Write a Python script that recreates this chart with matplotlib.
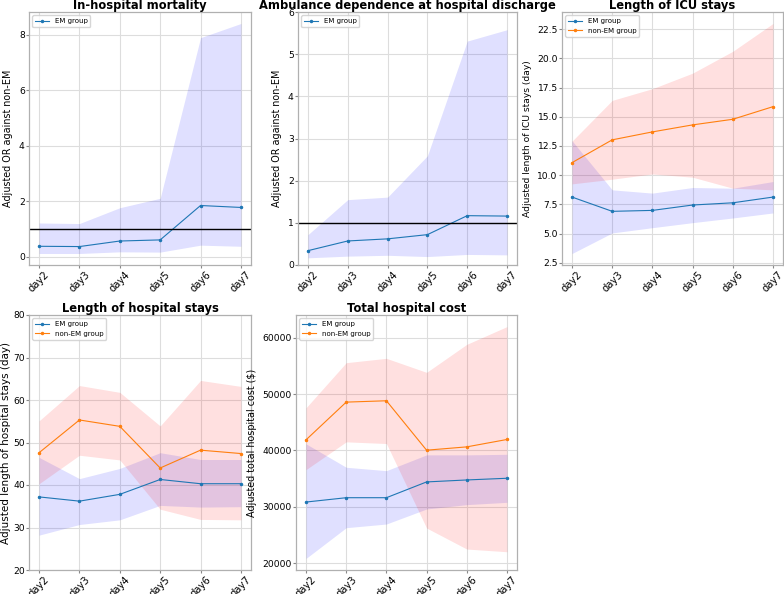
import matplotlib
matplotlib.use("Agg")
import matplotlib.pyplot as plt

days = ["day2", "day3", "day4", "day5", "day6", "day7"]

# In-hospital mortality (EM only, adjusted OR)
mort_em = [0.37, 0.36, 0.56, 0.60, 1.84, 1.77]
mort_em_lo = [0.11, 0.11, 0.17, 0.16, 0.41, 0.37]
mort_em_hi = [1.21, 1.19, 1.76, 2.10, 7.89, 8.40]

# Ambulance dependence at discharge (EM only, adjusted OR)
amb_em = [0.34, 0.57, 0.62, 0.72, 1.17, 1.16]
amb_em_lo = [0.17, 0.21, 0.23, 0.20, 0.25, 0.24]
amb_em_hi = [0.72, 1.55, 1.61, 2.59, 5.31, 5.58]

# Length of ICU stays (day)
icu_em = [8.12, 6.90, 6.98, 7.44, 7.63, 8.12]
icu_em_lo = [3.29, 5.05, 5.50, 5.93, 6.33, 6.76]
icu_em_hi = [12.94, 8.74, 8.46, 8.94, 8.88, 9.45]
icu_non = [11.07, 13.02, 13.70, 14.30, 14.78, 15.86]
icu_non_lo = [9.25, 9.65, 10.10, 9.82, 8.88, 8.74]
icu_non_hi = [12.91, 16.40, 17.40, 18.73, 20.60, 22.98]

# Length of hospital stays (day)
los_em = [37.2, 36.2, 37.8, 41.3, 40.3, 40.3]
los_em_lo = [28.2, 30.7, 31.8, 35.2, 34.8, 34.9]
los_em_hi = [46.5, 41.5, 43.9, 47.6, 46.0, 46.0]
los_non = [47.6, 55.3, 53.8, 44.0, 48.2, 47.4]
los_non_lo = [40.3, 47.0, 45.9, 34.3, 31.9, 31.8]
los_non_hi = [55.1, 63.4, 61.8, 53.9, 64.6, 63.2]

# Total hospital cost ($)
cost_em = [30830, 31600, 31600, 34400, 34750, 35050]
cost_em_lo = [20830, 26280, 26930, 29600, 30370, 30780]
cost_em_hi = [41150, 37000, 36400, 39200, 39200, 39300]
cost_non = [41870, 48560, 48800, 40030, 40620, 41930]
cost_non_lo = [36590, 41510, 41210, 26220, 22490, 22010]
cost_non_hi = [47560, 55560, 56330, 53840, 58810, 61960]

plt.rcParams.update({
    "axes.edgecolor": "#b0b0b0",
    "axes.linewidth": 0.9,
    "grid.color": "#dddddd",
    "grid.linewidth": 0.8,
    "xtick.major.size": 2.2,
    "ytick.major.size": 2.2,
    "xtick.color": "#888888",
    "ytick.color": "#888888",
    "xtick.labelcolor": "black",
    "ytick.labelcolor": "black",
    "xtick.major.pad": 1,
    "ytick.major.pad": 0.8,
})

W, H = 784, 594
fig = plt.figure(figsize=(W / 100, H / 100), dpi=100)


def make_ax(x0, y0, x1, y1):
    # pixel box (top-left origin) -> figure fraction
    return fig.add_axes([x0 / W, 1 - y1 / H, (x1 - x0) / W, (y1 - y0) / H])


def panel(ax, title, ylabel, em, em_lo, em_hi, non=None, non_lo=None, non_hi=None,
          ylabel_size=6.9, ylabel_pad=4):
    x = list(range(len(days)))
    ax.fill_between(x, em_lo, em_hi, color="blue", alpha=0.12, linewidth=0)
    ax.plot(x, em, marker=".", markersize=3, linewidth=0.8, color="#1f77b4", label="EM group")
    if non is not None:
        ax.fill_between(x, non_lo, non_hi, color="red", alpha=0.12, linewidth=0)
        ax.plot(x, non, marker=".", markersize=3, linewidth=0.8, color="#ff7f0e", label="non-EM group")
    ax.set_xticks(x)
    ax.set_xticklabels(days, rotation=45)
    ax.tick_params(axis="x", labelsize=7.2)
    ax.tick_params(axis="y", labelsize=6.6)
    ax.grid(True)
    ax.set_axisbelow(True)
    ax.set_title(title, fontsize=8.3, fontweight="bold", pad=2)
    ax.set_ylabel(ylabel, fontsize=ylabel_size, labelpad=ylabel_pad)
    ax.legend(loc="upper left", fontsize=5)


ax1 = make_ax(29, 12, 251, 265)
panel(ax1, "In-hospital mortality", "Adjusted OR against non-EM",
      mort_em, mort_em_lo, mort_em_hi)
ax1.axhline(1, color="black", linewidth=1.0)

ax2 = make_ax(298, 12, 517, 265)
panel(ax2, "Ambulance dependence at hospital discharge", "Adjusted OR against non-EM",
      amb_em, amb_em_lo, amb_em_hi)
ax2.axhline(1, color="black", linewidth=1.0)
ax2.set_ylim(0, 6)

ax3 = make_ax(562, 12, 783, 265)
panel(ax3, "Length of ICU stays", "Adjusted length of ICU stays (day)",
      icu_em, icu_em_lo, icu_em_hi, icu_non, icu_non_lo, icu_non_hi, ylabel_size=6.6)

ax4 = make_ax(29, 315, 251, 570)
panel(ax4, "Length of hospital stays", "Adjusted length of hospital stays (day)",
      los_em, los_em_lo, los_em_hi, los_non, los_non_lo, los_non_hi,
      ylabel_size=7.5, ylabel_pad=1.5)
ax4.set_ylim(20, 80)

ax5 = make_ax(296, 315, 517, 570)
panel(ax5, "Total hospital cost", "Adjusted total hospital cost ($)",
      cost_em, cost_em_lo, cost_em_hi, cost_non, cost_non_lo, cost_non_hi)

fig.savefig("out.png", dpi=100)
